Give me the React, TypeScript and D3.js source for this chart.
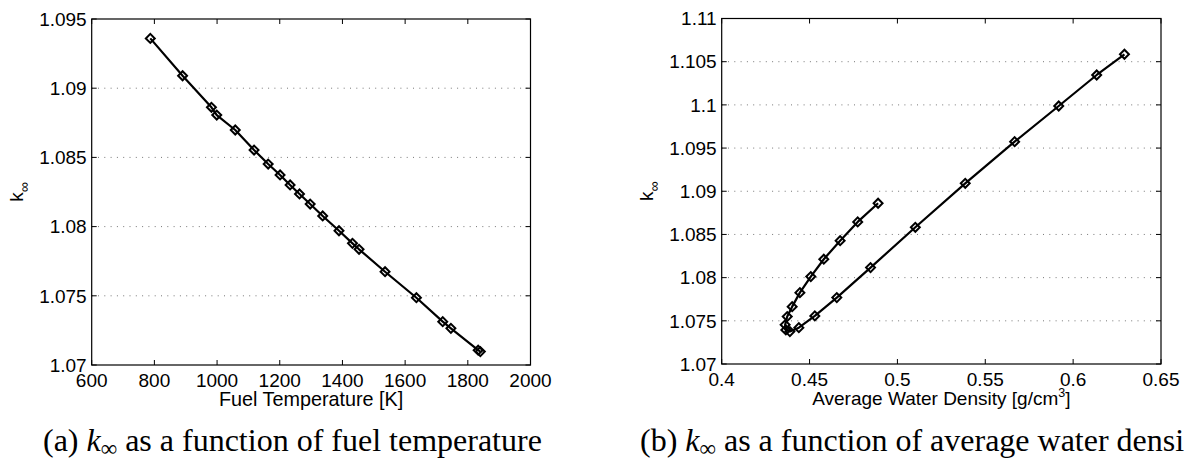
import React from 'react';
import * as d3 from 'd3';

// (a) fuel temperature sweep
const fuelTemp = [787, 890, 982, 999, 1058, 1118, 1163, 1201, 1233, 1263, 1297, 1337, 1389, 1432, 1453, 1536, 1636, 1720, 1746, 1833, 1840];
const kFuel = [1.0936, 1.0909, 1.08862, 1.08806, 1.08698, 1.08553, 1.08452, 1.08373, 1.08301, 1.08236, 1.08163, 1.08077, 1.0797, 1.07879, 1.07836, 1.07674, 1.07486, 1.07313, 1.07265, 1.07107, 1.07097];
const tempTicks = [600, 800, 1000, 1200, 1400, 1600, 1800, 2000];
const kFuelTicks = [1.07, 1.075, 1.08, 1.085, 1.09, 1.095];

// (b) average water density sweep
const waterDensity = [0.489, 0.4774, 0.4674, 0.4581, 0.4507, 0.4445, 0.4401, 0.4373, 0.4361, 0.4365, 0.4388, 0.4439, 0.453, 0.4655, 0.4847, 0.5102, 0.5386, 0.5667, 0.5918, 0.6134, 0.6292];
const kWater = [1.08861, 1.08645, 1.08428, 1.08213, 1.08012, 1.07826, 1.07664, 1.07549, 1.07453, 1.07395, 1.07375, 1.07421, 1.07557, 1.07769, 1.08116, 1.08583, 1.09092, 1.09574, 1.09987, 1.10346, 1.10586];
const densityTicks = [0.4, 0.45, 0.5, 0.55, 0.6, 0.65];
const kWaterTicks = [1.07, 1.075, 1.08, 1.085, 1.09, 1.095, 1.1, 1.105, 1.11];

const sans = '"Liberation Sans", Arial, Helvetica, sans-serif';
const serif = '"Liberation Serif", "Times New Roman", serif';
const fs = 19;

function drawPanel(svg, o) {
  const x = d3.scaleLinear().domain(d3.extent(o.xTicks)).range([o.left, o.right]);
  const y = d3.scaleLinear().domain(d3.extent(o.yTicks)).range([o.bottom, o.top]);
  const g = svg.append('g');
  const fmt = v => String(+v.toFixed(3));

  // dotted y grid
  g.selectAll('line.grid')
    .data(o.yTicks.slice(1, -1))
    .enter().append('line')
    .attr('x1', o.left).attr('x2', o.right)
    .attr('y1', d => y(d)).attr('y2', d => y(d))
    .attr('stroke', '#777').attr('stroke-width', 1)
    .attr('stroke-dasharray', '1,5.3');

  // inward ticks on all four sides
  const tl = 5;
  o.xTicks.forEach(t => {
    g.append('line').attr('x1', x(t)).attr('x2', x(t)).attr('y1', o.bottom).attr('y2', o.bottom - tl).attr('stroke', '#000');
    g.append('line').attr('x1', x(t)).attr('x2', x(t)).attr('y1', o.top).attr('y2', o.top + tl).attr('stroke', '#000');
  });
  o.yTicks.forEach(t => {
    g.append('line').attr('x1', o.left).attr('x2', o.left + tl).attr('y1', y(t)).attr('y2', y(t)).attr('stroke', '#000');
    g.append('line').attr('x1', o.right).attr('x2', o.right - tl).attr('y1', y(t)).attr('y2', y(t)).attr('stroke', '#000');
  });

  g.append('rect')
    .attr('x', o.left).attr('y', o.top)
    .attr('width', o.right - o.left).attr('height', o.bottom - o.top)
    .attr('fill', 'none').attr('stroke', '#000').attr('stroke-width', 1.2);

  g.selectAll('text.xt')
    .data(o.xTicks)
    .enter().append('text')
    .attr('x', d => x(d)).attr('y', o.bottom + 21.5)
    .attr('text-anchor', 'middle')
    .attr('font-family', sans).attr('font-size', fs)
    .text(fmt);

  g.selectAll('text.yt')
    .data(o.yTicks)
    .enter().append('text')
    .attr('x', o.left - 5).attr('y', d => y(d) + 6.8)
    .attr('text-anchor', 'end')
    .attr('font-family', sans).attr('font-size', fs)
    .text(fmt);

  // x label
  const xl = g.append('text')
    .attr('x', (o.left + o.right) / 2).attr('y', o.bottom + 40.5)
    .attr('text-anchor', 'middle')
    .attr('font-family', sans).attr('font-size', o.xLabelSize || fs);
  xl.append('tspan').text(o.xLabel);
  if (o.xSup) {
    xl.append('tspan').attr('dy', -8).attr('font-size', 12.5).text(o.xSup);
    xl.append('tspan').attr('dy', 8).text(']');
  }

  // y label k_inf
  const yl = g.append('text')
    .attr('transform', `translate(${o.yLabelX},${(o.top + o.bottom) / 2}) rotate(-90)`)
    .attr('text-anchor', 'middle')
    .attr('font-family', sans).attr('font-size', fs);
  yl.append('tspan').text('k');
  yl.append('tspan').attr('dy', 6).attr('font-size', 14).text('\u221e');

  const line = d3.line().x(d => x(d[0])).y(d => y(d[1]));
  const pts = o.xs.map((v, i) => [v, o.ys[i]]);
  g.append('path')
    .attr('d', line(pts))
    .attr('fill', 'none').attr('stroke', '#000').attr('stroke-width', 2.2)
    .attr('stroke-linejoin', 'round');

  const diamond = d3.symbol().type(d3.symbolSquare).size(40);
  g.selectAll('path.mk')
    .data(pts)
    .enter().append('path')
    .attr('d', diamond())
    .attr('transform', d => `translate(${x(d[0])},${y(d[1])}) rotate(45)`)
    .attr('fill', 'none').attr('stroke', '#000').attr('stroke-width', 2);

  // caption
  const cap = svg.append('text')
    .attr('x', o.capX).attr('y', 451)
    .attr('font-family', serif).attr('font-size', 32);
  cap.append('tspan').text(o.capTag + ' ');
  cap.append('tspan').attr('font-style', 'italic').text('k');
  cap.append('tspan').attr('dy', 5).attr('font-size', 23).text('\u221e');
  cap.append('tspan').attr('dy', -5).text(' ' + o.capText);
}

export default class App extends React.Component {
  render() {
    return (
      <svg
        ref={ref => { this.svg = ref; }}
        width={1184}
        height={460}
        style={{ position: 'absolute', left: 0, top: 0, background: '#fff' }}
      />
    );
  }

  componentDidMount() {
    const svg = d3.select(this.svg);
    svg.selectAll('*').remove();
    drawPanel(svg, {
      left: 91.7, right: 530.5, top: 19, bottom: 365,
      xTicks: tempTicks, yTicks: kFuelTicks,
      xs: fuelTemp, ys: kFuel,
      xLabel: 'Fuel Temperature [K]', xLabelSize: 19.8,
      yLabelX: 22.5,
      capX: 43, capTag: '(a)', capText: 'as a function of fuel temperature'
    });
    drawPanel(svg, {
      left: 721.7, right: 1161, top: 18.5, bottom: 364,
      xTicks: densityTicks, yTicks: kWaterTicks,
      xs: waterDensity, ys: kWater,
      xLabel: 'Average Water Density [g/cm', xSup: '3',
      yLabelX: 653,
      capX: 640, capTag: '(b)', capText: 'as a function of average water density'
    });
  }
}
